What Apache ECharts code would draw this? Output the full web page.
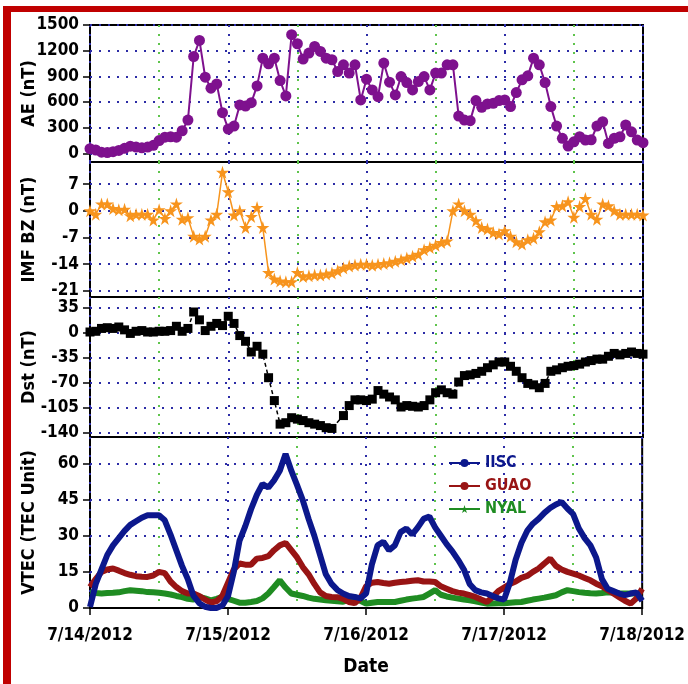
<!DOCTYPE html>
<html><head><meta charset="utf-8">
<script src="https://cdn.jsdelivr.net/npm/echarts@6/dist/echarts.min.js"></script>
<style>html,body{margin:0;padding:0;background:#fff}#c{width:688px;height:684px}</style>
</head><body><div id="c"></div>
<script>
const dateLabels = ['7/14/2012','7/15/2012','7/16/2012','7/17/2012','7/18/2012'];
const aeTicks = [0,300,600,900,1200,1500];
const imfTicks = [-21,-14,-7,0,7];
const dstTicks = [-140,-105,-70,-35,0,35];
const vtecTicks = [0,15,30,45,60];

const AE = [55,40,15,10,20,35,60,85,75,65,
  75,95,150,190,195,190,265,390,1132,1320,
  890,762,812,476,285,320,566,554,593,789,
  1113,1047,1113,851,672,1387,1281,1102,1172,1250,
  1191,1113,1094,957,1035,938,1035,625,867,742,
  663,1055,832,683,898,828,742,839,898,742,
  938,938,1035,1035,437,390,383,617,539,578,
  586,617,625,547,711,860,906,1113,1035,828,
  547,320,176,86,136,195,156,160,320,370,
  117,176,195,332,253,156,125];

const IMF = [0,-0.9,1.8,1.8,0.6,0.3,0.4,-1.3,-0.9,-0.9,
  -0.9,-2.4,0.3,-2,0,1.8,-2.2,-1.8,-6.7,-7.4,
  -6.7,-2.4,-0.9,10.1,5,-1.1,0,-4.4,-1.5,0.9,
  -4.4,-16.2,-17.9,-18.4,-18.6,-18.6,-16.2,-17.2,-17,-16.8,
  -16.8,-16.6,-16.3,-15.7,-15,-14.5,-14.2,-14,-14,-14.3,
  -14,-13.8,-13.6,-13.2,-12.8,-12.4,-11.9,-11.4,-10.2,-9.6,
  -9,-8.3,-7.9,0,1.8,0,-0.9,-2.6,-4.4,-4.8,
  -5.7,-6.1,-5.2,-6.7,-8.1,-8.7,-7.6,-7.2,-5.5,-2.9,
  -2.4,1.1,1.3,2.4,-1.7,1.1,3.2,-0.9,-2.2,1.8,
  1.3,0,-0.9,-0.9,-0.9,-0.9,-1.1];

const DST = [1,2,6,7,6,8,4,-1,2,3,
  1,1,2,2,3,9,2,6,29,18,
  3,9,13,10,23,13,-4,-12,-27,-19,
  -30,-63,-95,-128,-126,-119,-121,-123,-126,-128,
  -130,-133,-134,null,-116,-102,-94,-94,-95,-93,
  -81,-86,-90,-94,-104,-102,-103,-104,-102,-94,
  -84,-80,-84,-86,-69,-60,-59,-57,-54,-49,
  -45,-41,-41,-47,-54,-63,-71,-73,-77,-71,
  -54,-52,-49,-47,-46,-44,-41,-39,-37,-37,
  -33,-29,-31,-29,-27,-29,-30];

const IISC = [0.4,10,16,22,26,29,32,34.5,36,37.5,
  38.5,38.5,38.5,36.4,30.5,24,17.5,12,5,2,
  0.5,0,0,1,5,15,28,34,41,47,
  51.5,50,53,57,64,57,51,44.7,37,30,
  22,14,10,7.5,6,5,4.6,4,6,18,
  26,27.5,24,26,31.5,33,30.5,33.5,37,38,
  33.5,30,26.5,23.5,20,16,10,7.4,6.5,6,
  5,4,3.5,10.5,20,27,32,35,37,39.5,
  41.5,43,44,41.3,39,33,29,26,21,12,
  8,7,6,5.3,6,6.5,3];

const GUAO = [8.7,12,15,16,16.4,15.5,14.5,13.8,13.2,13,
  12.9,13.5,15,14.5,11,8.7,7,6,6,5,
  3.5,2.3,2.8,5,10.5,16,18.5,18,18,20.5,
  20.8,21.5,24,26,27,24,21,17,14,10,
  6.5,5,4.6,4.5,3.8,2.5,2,4,9,10.5,
  10.8,10.4,10.1,10.5,10.8,11,11.3,11.5,11,11,
  10.8,9,8,7,6.4,6,5.3,4.6,3.5,2.5,
  4.6,7,8.5,10,11,12.5,13.3,15,16.4,18.5,
  20.5,17.5,16,15,14.3,13.5,12.5,11.5,10.1,9,
  7.5,6,4.5,3,1.8,4,8];

const NYAL = [6.6,6.2,6,6.2,6.3,6.5,7,7.4,7.2,7,
  6.6,6.5,6.3,6,5.6,5,4.5,3.8,3.5,4.6,
  4,3.2,3.8,4.6,3.8,3,2.2,2.2,2.5,2.9,
  4,6,8.7,11.5,8.5,6,5.5,5,4.3,3.8,
  3.5,3.2,3,2.8,2.6,3.5,4.6,3,1.8,2.2,
  2.5,2.5,2.5,2.5,3,3.5,3.9,4.2,4.6,6,
  7.4,5.5,4.8,4.3,3.9,3.5,3.2,2.8,2.3,1.8,
  1.9,2,2,2.2,2.4,2.5,3,3.5,3.9,4.3,
  4.8,5.3,6.5,7.4,7,6.6,6.3,6.1,6,6.2,
  6.5,6.4,6.1,6,6,6,6];

const FONT = '"DejaVu Sans Condensed", "Liberation Sans Narrow", "Open Sans", sans-serif';
const BLUE_GRID = '#2c2ca6';
const GREEN_GRID = '#5fc44c';
const C_AE = '#7e118e', C_IMF = '#f7941d', C_DST = '#000000';
const C_IISC = '#0c188c', C_GUAO = '#981414', C_NYAL = '#1f8c22';
const STAR = 'path://M50,0 L61,35 L98,35 L68,57 L79,91 L50,70 L21,91 L32,57 L2,35 L39,35 Z';

const pairs = arr => arr.map((v, i) => [i, v]);

const grids = [
  {left: 90, top: 25, width: 553, height: 137},
  {left: 90, top: 162, width: 553, height: 135},
  {left: 90, top: 297, width: 553, height: 140},
  {left: 90, top: 437, width: 553, height: 171}
].map(g => Object.assign(g, {show: true, borderColor: '#000', borderWidth: 2, backgroundColor: '#fff'}));

const yDefs = [
  {name: 'AE (nT)', min: -100, max: 1500, ticks: aeTicks},
  {name: 'IMF BZ (nT)', min: -22.6, max: 12.8, ticks: imfTicks},
  {name: 'Dst (nT)', min: -146, max: 50, ticks: dstTicks},
  {name: 'VTEC (TEC Unit)', min: 0, max: 71, ticks: vtecTicks}
];

const yAxes = yDefs.map((d, i) => ({
  gridIndex: i, type: 'value', min: d.min, max: d.max,
  name: d.name, nameLocation: 'middle', nameGap: 52, nameMoveOverlap: false,
  nameTextStyle: {fontFamily: FONT, fontWeight: 'bold', fontSize: 18, color: '#000'},
  axisLine: {show: false},
  axisTick: {show: true, customValues: d.ticks, length: 7, lineStyle: {color: '#000', width: 1.5}},
  axisLabel: {customValues: d.ticks, formatter: v => String(v), fontFamily: FONT, fontWeight: 'bold', fontSize: 17, color: '#000', margin: 11},
  splitLine: {show: true, lineStyle: {color: BLUE_GRID, type: [2, 7], width: 2}}
}));

const xAxes = [0, 1, 2, 3].map(i => ({
  gridIndex: i, type: 'value', min: 0, max: 96, interval: 12,
  axisLine: {show: false}, axisTick: {show: false}, axisLabel: {show: false},
  splitLine: {show: true, lineStyle: {color: [BLUE_GRID, GREEN_GRID], type: [2, 7], width: 2}}
}));
xAxes.push({
  gridIndex: 3, type: 'value', min: 0, max: 96, interval: 24, position: 'bottom',
  axisLine: {show: true, onZero: false, lineStyle: {color: '#000', width: 2}},
  axisTick: {show: true, length: 7, lineStyle: {color: '#000', width: 1.5}},
  axisLabel: {formatter: v => dateLabels[v / 24], fontFamily: FONT, fontWeight: 'bold', fontSize: 17, color: '#000', margin: 19},
  splitLine: {show: false},
  name: 'Date', nameLocation: 'middle', nameGap: 50, nameMoveOverlap: false,
  nameTextStyle: {fontFamily: FONT, fontWeight: 'bold', fontSize: 19, color: '#000'}
});

const option = {
  animation: false,
  backgroundColor: '#fff',
  grid: grids,
  xAxis: xAxes,
  yAxis: yAxes,
  legend: {
    orient: 'vertical', left: 443, top: 450, itemWidth: 31, itemHeight: 10, itemGap: 7,
    textStyle: {fontFamily: FONT, fontWeight: 'bold', fontSize: 16},
    data: [
      {name: 'IISC', textStyle: {color: C_IISC}},
      {name: 'GUAO', textStyle: {color: C_GUAO}},
      {name: 'NYAL', textStyle: {color: C_NYAL}}
    ]
  },
  graphic: [
    {type: 'rect', left: 3, top: 6, shape: {width: 8, height: 690}, style: {fill: '#c00000'}, z: 100},
    {type: 'rect', left: 3, top: 6, shape: {width: 690, height: 6}, style: {fill: '#c00000'}, z: 100}
  ],
  series: [
    {name: 'AE', type: 'line', xAxisIndex: 0, yAxisIndex: 0, data: pairs(AE),
      symbol: 'circle', symbolSize: 11, itemStyle: {color: C_AE}, lineStyle: {color: C_AE, width: 2}},
    {name: 'IMF', type: 'line', xAxisIndex: 1, yAxisIndex: 1, data: pairs(IMF),
      symbol: STAR, symbolSize: 13, itemStyle: {color: C_IMF}, lineStyle: {color: C_IMF, width: 1.5}},
    {name: 'Dst', type: 'line', xAxisIndex: 2, yAxisIndex: 2, data: pairs(DST), connectNulls: true,
      symbol: 'rect', symbolSize: 9, itemStyle: {color: C_DST}, lineStyle: {color: C_DST, width: 1.5, type: [4, 3]}},
    {name: 'NYAL', type: 'line', xAxisIndex: 3, yAxisIndex: 3, data: pairs(NYAL), showSymbol: false,
      symbol: STAR, itemStyle: {color: C_NYAL}, lineStyle: {color: C_NYAL, width: 6}},
    {name: 'GUAO', type: 'line', xAxisIndex: 3, yAxisIndex: 3, data: pairs(GUAO), showSymbol: false,
      symbol: 'circle', itemStyle: {color: C_GUAO}, lineStyle: {color: C_GUAO, width: 6}},
    {name: 'IISC', type: 'line', xAxisIndex: 3, yAxisIndex: 3, data: pairs(IISC), showSymbol: false,
      symbol: 'circle', itemStyle: {color: C_IISC}, lineStyle: {color: C_IISC, width: 6}}
  ]
};

const chart = echarts.init(document.getElementById('c'), null, {renderer: 'canvas'});
chart.setOption(option);
</script>
</body></html>
